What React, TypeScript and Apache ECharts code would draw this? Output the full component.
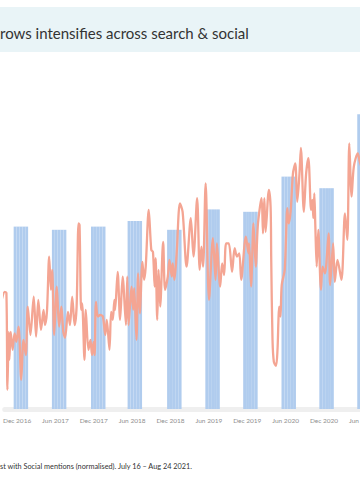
import React, { useEffect, useRef } from "react";
import * as echarts from "echarts";

const TITLE = "rows intensifies across search & social";
const FOOTNOTE = "st with Social mentions (normalised). July 16 – Aug 24 2021.";

// x unit: months since Jan 2016 (0 = Jan 2016)
const tickMonths = [11, 17, 23, 29, 35, 41, 47, 53, 59, 65];
const tickLabels = ["Dec 2016", "Jun 2017", "Dec 2017", "Jun 2018", "Dec 2018", "Jun 2019", "Dec 2019", "Jun 2020", "Dec 2020", "Jun 2021"];

// Search interest blocks: start month and value (normalised)
const searchStart = [10.46, 16.44, 22.56, 28.28, 34.46, 40.44, 46.36, 52.35, 58.27, 64.2];
const searchValue = [45.6, 44.8, 45.6, 47.0, 44.8, 49.9, 49.3, 58.1, 55.2, 73.7];
const searchSpanMonths = 2.27;
const searchSlices = 5;

// Social mentions (normalised)
const socialMonth = [
  8.60, 9.07, 9.33, 9.49, 9.69, 9.79, 10.00, 10.30, 10.61, 10.88,
  11.23, 11.65, 12.00, 12.36, 12.67, 13.09, 13.60, 13.97, 14.32, 14.74,
  15.14, 15.36, 15.67, 16.02, 16.29, 16.49, 16.80, 17.21, 17.57, 17.92,
  18.23, 18.50, 18.96, 19.27, 19.62, 20.00, 20.31, 20.61, 20.77, 21.02,
  21.17, 21.54, 21.74, 22.16, 22.47, 22.72, 22.98, 23.13, 23.33, 23.64,
  24.01, 24.42, 24.79, 25.03, 25.45, 25.71, 25.96, 26.22, 26.33, 26.73,
  27.11, 27.51, 28.03, 28.23, 28.43, 28.65, 28.90, 29.16, 29.32, 29.67,
  29.93, 30.20, 30.60, 30.86, 31.12, 31.59, 31.99, 32.25, 32.52, 32.67,
  32.92, 33.13, 33.38, 33.84, 34.15, 34.57, 34.83, 35.19, 35.34, 35.61,
  35.96, 36.47, 36.89, 37.51, 38.17, 38.59, 39.16, 39.56, 39.83, 40.09,
  40.49, 41.02, 41.63, 42.04, 42.25, 42.76, 43.07, 43.38, 43.69, 44.11,
  44.62, 45.03, 45.39, 45.75, 46.05, 46.78, 47.20, 47.29, 47.60, 47.97,
  48.33, 48.64, 48.99, 49.25, 49.46, 49.67, 49.87, 50.38, 50.65, 50.75,
  50.95, 51.16, 51.50, 51.73, 51.88, 51.99, 52.19, 52.39, 52.86, 53.27,
  53.47, 53.78, 54.15, 54.51, 54.82, 55.17, 55.39, 55.85, 56.21, 56.56,
  56.98, 57.18, 57.34, 57.49, 57.65, 57.86, 58.11, 58.53, 58.79, 59.15,
  59.72, 59.96, 60.43, 60.69, 61.11, 61.73, 62.28, 62.65, 62.96, 63.32,
  63.67, 64.29, 64.60, 65.02,
];
const socialValue = [
  27.3, 29.3, 29.0, 4.8, 19.3, 12.3, 19.3, 14.8, 18.9, 16.8,
  20.6, 7.3, 17.3, 13.5, 25.6, 18.5, 28.1, 18.1, 27.3, 19.8,
  24.8, 21.0, 24.3, 38.1, 29.8, 34.8, 18.5, 30.6, 20.6, 25.6,
  19.3, 17.8, 24.3, 21.0, 28.1, 21.0, 25.6, 46.4, 46.0, 24.8,
  26.4, 12.3, 24.8, 14.8, 17.3, 13.5, 16.8, 13.5, 26.8, 23.1,
  23.5, 23.1, 18.5, 22.3, 14.8, 24.3, 22.3, 27.3, 24.8, 34.3,
  22.3, 33.1, 21.0, 33.1, 21.0, 25.6, 30.6, 24.8, 30.2, 17.3,
  33.9, 23.9, 36.8, 32.3, 35.6, 49.8, 39.8, 39.3, 30.6, 37.7,
  22.3, 34.8, 25.6, 41.8, 29.8, 33.1, 37.3, 33.1, 36.4, 32.3,
  38.9, 51.4, 49.3, 35.6, 47.7, 38.1, 52.7, 34.8, 40.6, 35.6,
  56.4, 27.3, 42.7, 32.3, 41.4, 30.6, 36.4, 33.5, 41.4, 41.4,
  34.3, 40.2, 38.1, 38.9, 32.3, 43.1, 38.9, 41.4, 30.6, 46.4,
  35.6, 45.6, 50.6, 52.7, 43.9, 52.7, 44.3, 54.8, 50.6, 37.3,
  17.3, 11.8, 10.8, 14.8, 22.3, 25.6, 23.1, 31.0, 34.8, 50.2,
  46.4, 49.3, 58.9, 61.4, 51.8, 58.9, 65.3, 49.3, 58.9, 62.7,
  49.8, 52.3, 47.7, 53.9, 45.6, 35.6, 44.8, 29.8, 35.6, 33.9,
  43.9, 31.0, 41.4, 31.8, 37.3, 32.3, 48.9, 42.3, 66.4, 53.1,
  60.6, 63.9, 61.8, 59.8,
];

const FONT = "Lato, 'Open Sans', sans-serif";

export default function App() {
  const ref = useRef<HTMLDivElement>(null);

  useEffect(() => {
    if (!ref.current) return;
    const chart = echarts.init(ref.current, undefined, { renderer: "svg" });

    const barData: [number, number][] = [];
    searchStart.forEach((s, i) => {
      const step = searchSpanMonths / searchSlices;
      for (let k = 0; k < searchSlices; k++) {
        barData.push([s + step * (k + 0.5), searchValue[i]]);
      }
    });
    const lineData = socialMonth.map((m, i) => [m, socialValue[i]]);

    chart.setOption({
      animation: false,
      grid: { left: 0, right: 0, top: 9, bottom: 91, containLabel: false },
      xAxis: {
        type: "value",
        min: 9.068,
        max: 70.89,
        offset: 2.5,
        axisLine: { show: true, lineStyle: { color: "#efefef", width: 5 } },
        axisTick: { show: false },
        splitLine: { show: false },
        axisLabel: {
          customValues: tickMonths,
          formatter: (v: number) => {
            const idx = tickMonths.findIndex((t) => Math.abs(t - v) < 0.01);
            return idx >= 0 ? tickLabels[idx] : "";
          },
          fontSize: 6.5,
          color: "#8f8f8f",
          margin: 5,
          fontFamily: FONT,
        },
      },
      yAxis: { type: "value", min: 0, max: 100, show: false },
      series: [
        {
          type: "bar",
          data: barData,
          barWidth: 2.85,
          itemStyle: { color: "#b0ccee" },
          z: 2,
        },
        {
          type: "line",
          data: lineData,
          smooth: 0.3,
          symbol: "none",
          lineStyle: { color: "#f4a593", width: 2.3 },
          z: 3,
        },
      ],
      graphic: [
        {
          type: "rect",
          shape: { x: 0, y: 7, width: 400, height: 45 },
          style: { fill: "#e9f4f7" },
          z: 0,
        },
        {
          type: "text",
          x: 0,
          y: 33,
          style: {
            text: TITLE,
            font: `15px ${FONT}`,
            fill: "#333333",
            verticalAlign: "middle",
          },
          z: 1,
        },
        {
          type: "text",
          x: 0,
          y: 466,
          style: {
            text: FOOTNOTE,
            font: `7.3px ${FONT}`,
            fill: "#333333",
            verticalAlign: "middle",
          },
          z: 1,
        },
      ],
    });

    return () => chart.dispose();
  }, []);

  return (
    <div style={{ position: "fixed", left: 0, top: 0, width: 360, height: 500, overflow: "hidden", background: "#fff" }}>
      <div ref={ref} style={{ width: 400, height: 500 }} />
    </div>
  );
}
